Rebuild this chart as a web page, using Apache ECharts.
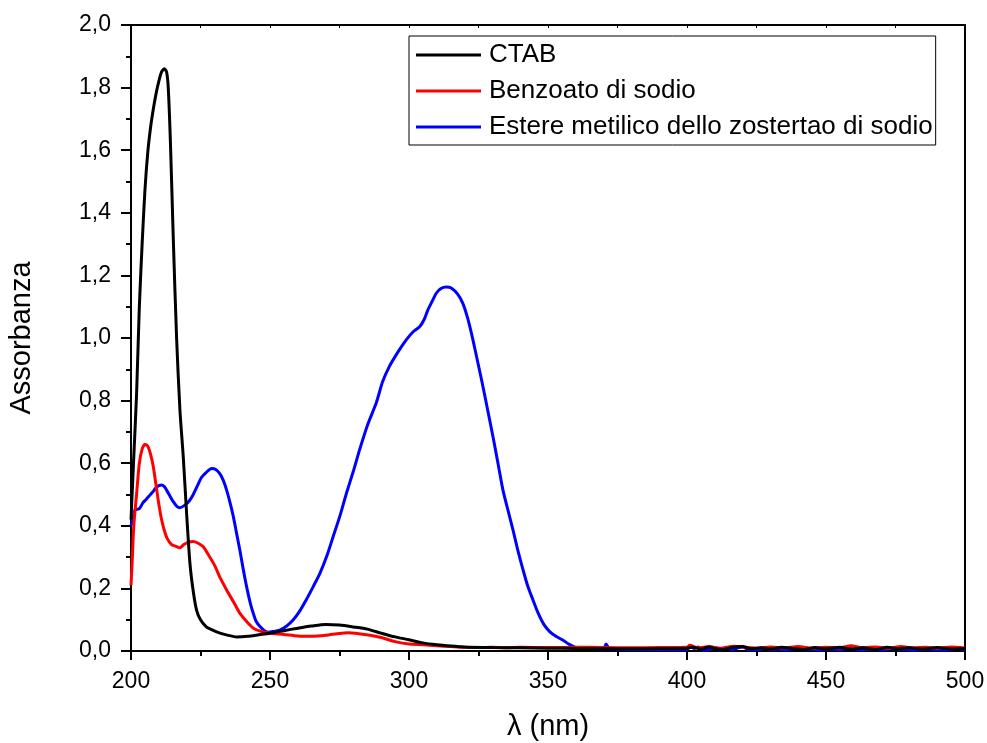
<!DOCTYPE html>
<html>
<head>
<meta charset="utf-8">
<script src="https://cdn.jsdelivr.net/npm/echarts@6/dist/echarts.min.js"></script>
<style>
html,body{margin:0;padding:0;background:#fff;}
#chart{width:987px;height:743px;}
</style>
</head>
<body>
<div id="chart"></div>
<script>
const seriesNames = ["CTAB", "Benzoato di sodio", "Estere metilico dello zostertao di sodio"];
const seriesColors = ["#000000", "#ff0000", "#0000ff"];

const ctabX = [200,201,202,203,204,205,206,207,208,209,210,211,212,212.8,213.4,214.2,215.2,216.4,217.6,218.8,220,221.2,222.4,223.6,225,227,229,232,235,238,242,246,250,255,260,265,270,275,280,285,290,295,300,305,310,315,320,330,340,350,360,370,380,390,400,402,405,408,410,413,416,420,423,427,430,434,438,442,446,450,455,459,463,468,472,476,480,485,490,495,500];
const ctabY = [0.42,0.62,0.82,1.10,1.30,1.47,1.59,1.67,1.73,1.78,1.82,1.85,1.86,1.85,1.80,1.62,1.32,1.00,0.77,0.62,0.44,0.28,0.19,0.13,0.10,0.078,0.068,0.057,0.05,0.045,0.047,0.052,0.057,0.065,0.073,0.08,0.085,0.083,0.077,0.07,0.057,0.045,0.036,0.026,0.02,0.016,0.013,0.011,0.01,0.009,0.008,0.008,0.007,0.008,0.009,0.012,0.006,0.013,0.008,0.005,0.011,0.014,0.007,0.01,0.006,0.012,0.008,0.005,0.011,0.007,0.012,0.006,0.01,0.005,0.012,0.007,0.01,0.006,0.011,0.006,0.008];

const benzX = [200,200.5,201,202,203,204,205,206,207,208,209,210,211,212,213,214.6,216,217.6,219,220.5,222.4,224,226,228,230,232,234.4,237,239.2,242,244,247,250,255,260,265,270,275,278,282,286,290,295,300,305,310,315,320,325,330,335,340,350,360,370,380,390,400,401,404,408,412,417,421,425,430,435,440,445,450,455,459,463,468,472,477,481,486,490,495,500];
const benzY = [0.21,0.30,0.40,0.50,0.60,0.645,0.66,0.655,0.63,0.59,0.53,0.47,0.42,0.385,0.36,0.34,0.335,0.33,0.34,0.347,0.35,0.345,0.333,0.305,0.275,0.235,0.195,0.155,0.12,0.09,0.073,0.062,0.057,0.053,0.048,0.047,0.05,0.056,0.058,0.055,0.05,0.043,0.03,0.022,0.02,0.017,0.014,0.012,0.011,0.012,0.01,0.012,0.011,0.012,0.011,0.01,0.011,0.012,0.018,0.01,0.014,0.009,0.015,0.012,0.009,0.013,0.01,0.014,0.009,0.012,0.01,0.017,0.011,0.013,0.009,0.014,0.01,0.012,0.009,0.013,0.01];

const esterX = [200,200.7,201.4,203,204.4,205.5,206.8,208,209.2,211,212,212.8,214,215.2,216.5,217.6,219.4,221,222.4,224,225.4,227,229,230.5,232,233.2,234.4,235.6,236.8,238,239.2,240.4,241.6,243,244,245,246.4,248,249.4,251,253.5,256,258.3,260.5,263,265.5,268,270.5,272.7,275.1,277.5,280,282.3,285,288.3,290.5,293,296,299,301.5,303.8,305.5,306.8,308.5,309.8,311.5,313.4,315.2,317.5,319.4,321.2,323,324.8,326.6,328.4,330.2,332,333.8,335.6,337.4,339.2,341,342.8,344.6,346.5,348.5,350.6,353,355.3,357.5,360.1,363,367,370,370.9,372,375,380,385,390,395,400,401,402.5,404,405.5,408,410,412,414,416,418,420,422,425,428,430,433,436,439,442,445,448,451,455,458,462,466,470,474,478,482,486,490,494,497,500];
const esterY = [0.40,0.42,0.45,0.455,0.475,0.485,0.498,0.51,0.524,0.53,0.525,0.514,0.495,0.477,0.462,0.458,0.466,0.48,0.50,0.53,0.555,0.57,0.583,0.58,0.566,0.545,0.514,0.475,0.43,0.375,0.32,0.26,0.205,0.15,0.12,0.095,0.078,0.065,0.06,0.062,0.067,0.08,0.099,0.125,0.163,0.205,0.249,0.305,0.365,0.43,0.504,0.575,0.645,0.72,0.795,0.86,0.91,0.955,0.994,1.02,1.036,1.06,1.09,1.12,1.143,1.158,1.163,1.16,1.14,1.11,1.06,0.994,0.92,0.845,0.765,0.685,0.60,0.514,0.45,0.387,0.32,0.26,0.205,0.163,0.12,0.085,0.062,0.046,0.035,0.022,0.011,0.009,0.007,0.008,0.022,0.008,0.006,0.005,0.005,0.005,0.004,0.005,0.017,0.008,0.013,0.003,0.005,0.01,0.003,0.012,0.004,0.009,0.013,0.005,0.004,0.008,0.004,0.006,0.003,0.008,0.004,0.006,0.003,0.007,0.004,0.008,0.004,0.006,0.003,0.008,0.005,0.003,0.006,0.004,0.003,0.007,0.004];

const xTicks = [200, 250, 300, 350, 400, 450, 500];
const yTicks = [0.0, 0.2, 0.4, 0.6, 0.8, 1.0, 1.2, 1.4, 1.6, 1.8, 2.0];

function pairs(xs, ys) { return xs.map((x, i) => [x, ys[i]]); }

const chart = echarts.init(document.getElementById('chart'), null, {renderer: 'canvas'});
const font = 'Liberation Sans, Arial, sans-serif';
const axisLineStyle = {color: '#000', width: 2};

chart.setOption({
  animation: false,
  backgroundColor: '#fff',
  grid: {left: 131, right: 22, top: 25, bottom: 92, containLabel: false, outerBoundsMode: 'none'},
  legend: {
    orient: 'vertical',
    left: 409, top: 36,
    padding: [4, 3, 3, 7],
    itemGap: 6,
    itemWidth: 65, itemHeight: 3,
    icon: 'rect',
    borderColor: '#000', borderWidth: 1,
    backgroundColor: '#fff',
    textStyle: {fontFamily: font, fontSize: 26, color: '#000', lineHeight: 30, padding: [0, 0, 0, 3]},
    data: seriesNames
  },
  xAxis: [{
    type: 'value', min: xTicks[0], max: xTicks[xTicks.length - 1], interval: 50,
    name: 'λ (nm)', nameLocation: 'middle', nameGap: 61,
    nameTextStyle: {fontFamily: font, fontSize: 29, color: '#000'},
    axisLine: {show: true, onZero: false, lineStyle: axisLineStyle},
    axisTick: {show: true, inside: false, length: 9, lineStyle: {color: '#000', width: 2}},
    minorTick: {show: true, splitNumber: 2, length: 5, lineStyle: {color: '#000', width: 2}},
    axisLabel: {fontFamily: font, fontSize: 23, color: '#000', margin: 19},
    splitLine: {show: false}
  }, {
    type: 'value', position: 'top', min: xTicks[0], max: xTicks[xTicks.length - 1], interval: 25,
    axisLine: {show: true, onZero: false, lineStyle: axisLineStyle},
    axisTick: {show: true, inside: true, length: 3, lineStyle: {color: '#000', width: 1}},
    axisLabel: {show: false},
    splitLine: {show: false}
  }],
  yAxis: [{
    type: 'value', min: yTicks[0], max: yTicks[yTicks.length - 1], interval: 0.2,
    name: 'Assorbanza', nameLocation: 'middle', nameGap: 95,
    nameTextStyle: {fontFamily: font, fontSize: 29, color: '#000'},
    axisLine: {show: true, onZero: false, lineStyle: axisLineStyle},
    axisTick: {show: true, inside: false, length: 10, lineStyle: {color: '#000', width: 2}},
    minorTick: {show: true, splitNumber: 2, length: 5, lineStyle: {color: '#000', width: 2}},
    axisLabel: {fontFamily: font, fontSize: 23, color: '#000', margin: 20,
      formatter: v => v.toFixed(1).replace('.', ',')},
    splitLine: {show: false}
  }, {
    type: 'value', position: 'right', min: yTicks[0], max: yTicks[yTicks.length - 1], interval: 0.2,
    axisLine: {show: true, onZero: false, lineStyle: axisLineStyle},
    axisTick: {show: false}, axisLabel: {show: false}, splitLine: {show: false}
  }],
  series: [
    {name: seriesNames[0], type: 'line', data: pairs(ctabX, ctabY)},
    {name: seriesNames[1], type: 'line', data: pairs(benzX, benzY)},
    {name: seriesNames[2], type: 'line', data: pairs(esterX, esterY)}
  ].map((s, i) => Object.assign(s, {
    showSymbol: false, symbol: 'none', smooth: 0.25, z: 3 - i,
    color: seriesColors[i],
    lineStyle: {color: seriesColors[i], width: 3}
  }))
});
</script>
</body>
</html>
